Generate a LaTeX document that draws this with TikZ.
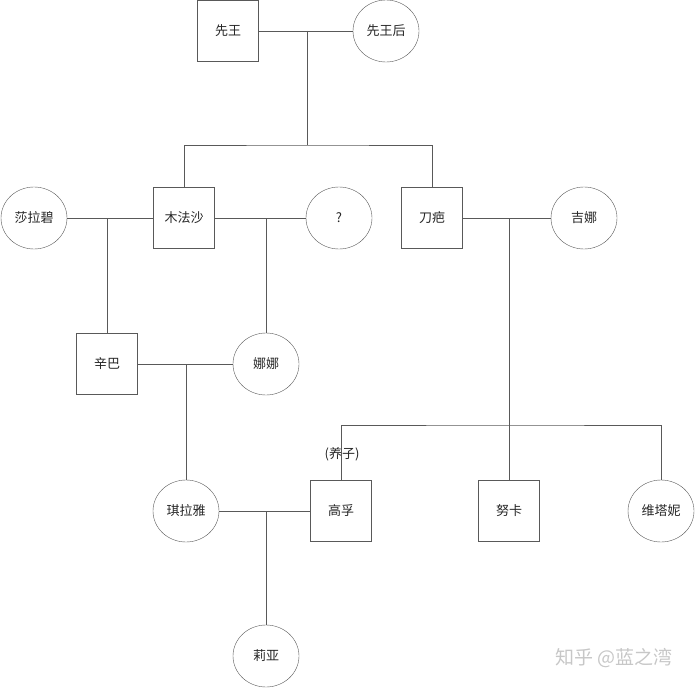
\documentclass[tikz,border=0pt]{standalone}
\usepackage{fontspec}
\setmainfont{Noto Sans CJK SC}
\usetikzlibrary{shapes.geometric}
\tikzset{
  male/.style={draw=black!65, rectangle, minimum size=61pt, inner sep=0pt},
  female/.style={draw=black!65, ellipse, minimum width=66pt, minimum height=62pt, inner sep=0pt},
  link/.style={draw=black!65, line width=0.8pt}
}
\begin{document}
\begin{tikzpicture}[x=1pt, y=-1pt, font=\fontsize{13}{15}\selectfont, text=black!85]
            \useasboundingbox (0,0) rectangle (695,687);
            \node[male] (xw) at (228,31) {先王};
            \node[female] (xwh) at (386,31) {先王后};
            \node[female] (slb) at (34,218) {莎拉碧};
            \node[male] (mfs) at (184,218) {木法沙};
            \node[female] (unk) at (339,218) {?};
            \node[male] (db) at (432,218) {刀疤};
            \node[female] (jn) at (584,218) {吉娜};
            \node[male] (xb) at (107,364) {辛巴};
            \node[female] (nn) at (266,364) {娜娜};
            \node[female] (qly) at (186,511) {琪拉雅};
            \node[male] (gf) at (341,511) {高孚};
            \node[male] (nk) at (509,511) {努卡};
            \node[female] (wtn) at (661,511) {维塔妮};
            \node[female] (ly) at (266,656) {莉亚};
            \node (yz) at (342,454) {(养子)};
            \node[text=black!22, font=\fontsize{19}{19}\selectfont] (wm) at (614,658) {知乎 @蓝之湾};
            \coordinate (c0) at (307,31);
            \coordinate (c0b) at (307,145);
            \coordinate (c1) at (107,218);
            \coordinate (c2) at (266,218);
            \coordinate (c3) at (509,218);
            \coordinate (c3b) at (509,425);
            \coordinate (c4) at (186,364);
            \coordinate (c5) at (266,511);
            \draw[link] (xw) -- (xwh);
            \draw[link] (c0) -- (c0b);
            \draw[link] (mfs) |- (c0b) -| (db);
            \draw[link] (slb) -- (mfs);
            \draw[link] (c1) -- (xb);
            \draw[link] (mfs) -- (unk);
            \draw[link] (c2) -- (nn);
            \draw[link] (db) -- (jn);
            \draw[link] (c3) -- (nk);
            \draw[link] (gf) |- (c3b) -| (wtn);
            \draw[link] (xb) -- (nn);
            \draw[link] (c4) -- (qly);
            \draw[link] (qly) -- (gf);
            \draw[link] (c5) -- (ly);
        \end{tikzpicture}
\end{document}
